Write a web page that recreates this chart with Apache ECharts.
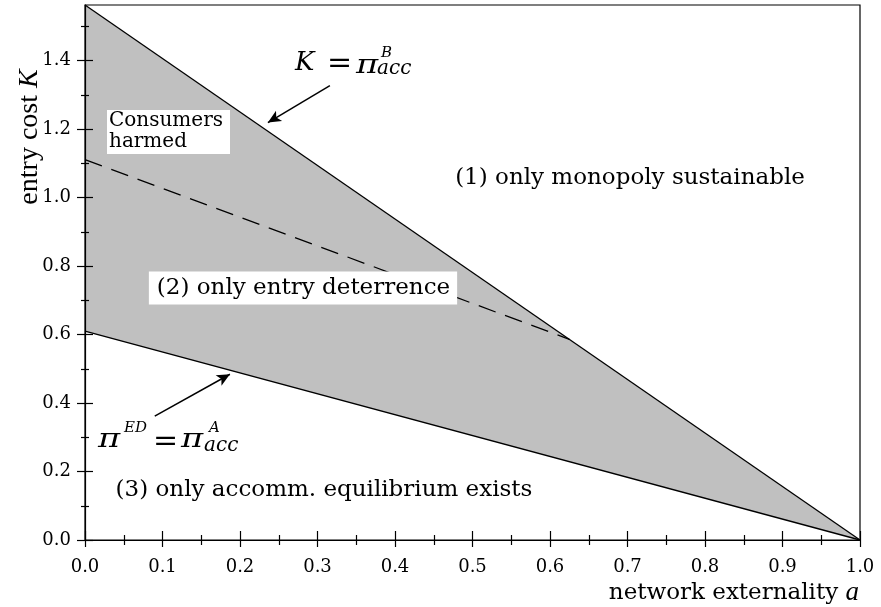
<!DOCTYPE html>
<html><head><meta charset="utf-8">
<script src="https://cdn.jsdelivr.net/npm/echarts@6/dist/echarts.min.js"></script>
<style>html,body{margin:0;padding:0;background:#fff}#c{width:881px;height:607px}</style>
</head><body><div id="c"></div>
<script>
// ---- data ----
const aEnds = [0, 1];
const upperK = [1.5625, 0];      // K = pi^B_acc
const lowerK = [0.61, 0];        // pi^ED = pi^A_acc
const dashA = [0, 0.625];
const dashK = [1.111, 0.586];    // consumers harmed boundary
const xMajor = [0, 0.1, 0.2, 0.3, 0.4, 0.5, 0.6, 0.7, 0.8, 0.9, 1.0];
const xMinor = [0.05, 0.15, 0.25, 0.35, 0.45, 0.55, 0.65, 0.75, 0.85, 0.95];
const yMajor = [0, 0.2, 0.4, 0.6, 0.8, 1.0, 1.2, 1.4];
const yMinor = [0.1, 0.3, 0.5, 0.7, 0.9, 1.1, 1.3, 1.5];
const yMax = 1.5625;
const arrowUpper = [[0.316, 1.327], [0.236, 1.219]];
const arrowLower = [[0.090, 0.362], [0.187, 0.484]];

const tickFont = 'DejaVu Serif';
const annFont = 'DejaVu Serif';
const nameFont = 'Liberation Serif';
const mathFont = 'DejaVu Serif';
const chart = echarts.init(document.getElementById('c'));

function xAx(vals, inside, len, labels, line) {
  return {type: 'value', min: 0, max: 1, position: 'bottom', offset: 0, z: 10,
    axisLine: {show: line, lineStyle: {color: '#000', width: 1.2}},
    axisTick: {show: true, inside: inside, length: len, customValues: vals, lineStyle: {color: '#000', width: 1.2}},
    axisLabel: {show: labels, customValues: xMajor, formatter: v => v.toFixed(1), color: '#000',
      fontFamily: tickFont, fontSize: 18, margin: 18},
    splitLine: {show: false}, minorTick: {show: false}};
}
function yAx(vals, inside, len, labels, line) {
  return {type: 'value', min: 0, max: yMax, position: 'left', offset: 0, z: 10,
    axisLine: {show: line, lineStyle: {color: '#000', width: 1.2}},
    axisTick: {show: true, inside: inside, length: len, customValues: vals, lineStyle: {color: '#000', width: 1.2}},
    axisLabel: {show: labels, customValues: yMajor, formatter: v => v.toFixed(1), color: '#000',
      fontFamily: tickFont, fontSize: 18, margin: 14},
    splitLine: {show: false}, minorTick: {show: false}};
}

function txt(text, x, y, family, size, italic, extra, sx) {
  return {type: 'text', z: 100, x: x, y: y, scaleX: sx || 1,
    style: Object.assign({text: text, x: 0, y: 0,
    fontFamily: family, fontSize: size, fontStyle: italic ? 'italic' : 'normal', fontWeight: 'normal', fill: '#000',
    textVerticalAlign: 'middle'}, extra || {})};
}

chart.setOption({
  animation: false,
  grid: {left: 85, right: 21, top: 5, bottom: 67, show: true, borderColor: '#000', borderWidth: 1.2, backgroundColor: 'transparent'},
  xAxis: [xAx(xMajor, false, 7, true, true), xAx(xMajor, true, 9, false, false),
          xAx(xMinor, false, 5, false, false), xAx(xMinor, true, 5, false, false)],
  yAxis: [yAx(yMajor, false, 8, true, true), yAx(yMajor, true, 8, false, false),
          yAx(yMinor, false, 4, false, false), yAx(yMinor, true, 4, false, false)],
  series: [
    {type: 'custom', z: 1, data: [0],
     renderItem: function (params, api) {
       const pts = [];
       for (let i = 0; i < aEnds.length; i++) pts.push(api.coord([aEnds[i], upperK[i]]));
       for (let i = aEnds.length - 1; i >= 0; i--) pts.push(api.coord([aEnds[i], lowerK[i]]));
       return {type: 'polygon', shape: {points: pts}, style: {fill: '#c0c0c0', stroke: null}};
     }},
    {type: 'line', data: aEnds.map((a, i) => [a, upperK[i]]), symbol: 'none',
     lineStyle: {color: '#000', width: 1.3}, z: 3},
    {type: 'line', data: aEnds.map((a, i) => [a, lowerK[i]]), symbol: 'none',
     lineStyle: {color: '#000', width: 1.3}, z: 3},
    {type: 'line', data: dashA.map((a, i) => [a, dashK[i]]), symbol: 'none',
     lineStyle: {color: '#000', width: 1.3, type: [18, 10]}, z: 4,
     markLine: {silent: true, symbol: ['none', 'arrow'], symbolSize: [9, 13],
       lineStyle: {color: '#000', width: 1.5, type: 'solid'}, label: {show: false},
       data: [
         [{coord: arrowUpper[0]}, {coord: arrowUpper[1]}],
         [{coord: arrowLower[0]}, {coord: arrowLower[1]}]
       ]}}
  ],
  graphic: [
    {type: 'rect', z: 99, shape: {x: 107, y: 110, width: 123, height: 44}, style: {fill: '#fff'}},
    txt('Consumers', 109, 121, annFont, 20, false),
    txt('harmed', 109, 142, annFont, 20, false),
    txt('(1) only monopoly sustainable', 630, 178, annFont, 23, false, {textAlign: 'center'}),
    txt('(2) only entry deterrence', 303, 288, annFont, 23, false,
      {textAlign: 'center', backgroundColor: '#fff', padding: [5, 7, 5, 8]}),
    txt('(3) only accomm. equilibrium exists', 324, 490, annFont, 23, false, {textAlign: 'center'}),
    // K = pi^B_acc
    txt('K', 295, 63.5, mathFont, 26, true),
    txt('=', 327, 64.5, mathFont, 30, false),
    txt('π', 356, 66, mathFont, 26, true, null, 1.3),
    txt('B', 381, 53, mathFont, 15, true),
    txt('acc', 377, 69, mathFont, 20, true),
    // pi^ED = pi^A_acc
    txt('π', 98, 440, mathFont, 26, true, null, 1.3),
    txt('ED', 124, 428, mathFont, 15, true),
    txt('=', 153, 442, mathFont, 30, false),
    txt('π', 181, 440, mathFont, 26, true, null, 1.3),
    txt('A', 209, 428, mathFont, 15, true),
    txt('acc', 204, 446, mathFont, 20, true),
    // axis names
    {type: 'text', z: 100, x: 30, y: 137, rotation: Math.PI / 2,
      style: {text: '{n|entry cost }{i|K}', textAlign: 'center', textVerticalAlign: 'middle',
        rich: {n: {fontFamily: nameFont, fontSize: 28, fill: '#000'},
               i: {fontFamily: nameFont, fontSize: 28, fontStyle: 'italic', fill: '#000'}}}},
    {type: 'text', z: 100, x: 859, y: 593,
      style: {text: '{n|network externality }{i|a}', textAlign: 'right', textVerticalAlign: 'middle',
        rich: {n: {fontFamily: annFont, fontSize: 23, fill: '#000'},
               i: {fontFamily: nameFont, fontSize: 27, fontStyle: 'italic', fill: '#000'}}}}
  ]
});
</script></body></html>
